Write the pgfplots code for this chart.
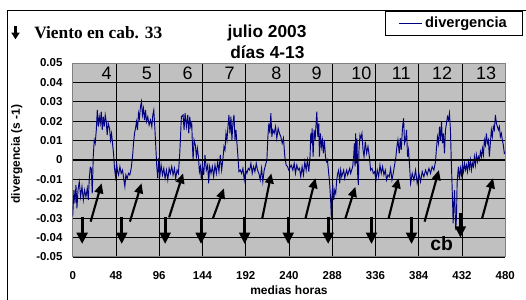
\documentclass[border=0pt]{standalone}
\usepackage{fontspec}
\setmainfont{Liberation Sans}
\newfontfamily\serifbf{Liberation Serif}
\usepackage{pgfplots}
\pgfplotsset{compat=1.18}
\usetikzlibrary{arrows.meta}
\definecolor{plotgray}{HTML}{C0C0C0}
\definecolor{navyline}{HTML}{000080}
\definecolor{framegray}{HTML}{808080}
\begin{document}
\begin{tikzpicture}
\useasboundingbox (0,0) rectangle (394.5pt,225pt);
\begin{axis}[
  at={(54.525pt,32.25pt)}, anchor=south west,
  scale only axis, width=324.4pt, height=145.5pt,
  xmin=0, xmax=480, ymin=-0.05, ymax=0.05,
  scaled y ticks=false, scaled x ticks=false,
  axis background/.style={fill=plotgray},
  axis line style={framegray, line width=0.75pt},
  xtick={0,48,96,144,192,240,288,336,384,432,480},
  xticklabels={0,48,96,144,192,240,288,336,384,432,480},
  ytick={-0.05,-0.04,-0.03,-0.02,-0.01,0,0.01,0.02,0.03,0.04,0.05},
  yticklabels={-0.05,-0.04,-0.03,-0.02,-0.01,0,0.01,0.02,0.03,0.04,0.05},
  major tick length=0pt,
  grid=major, major grid style={black, line width=0.6pt},
  tick label style={font=\bfseries\fontsize{8.6}{10}\selectfont},
  xticklabel style={yshift=-7.4pt},
  yticklabel style={xshift=-4.2pt},
  xlabel={medias horas}, ylabel={divergencia (s -1)},
  label style={font=\bfseries\fontsize{9}{11}\selectfont},
  xlabel style={at={(axis description cs:0.5,-0.173)}, anchor=center},
  ylabel style={at={(axis description cs:-0.129,0.531)}, anchor=center},
  legend style={at={(axis description cs:1.0411,1.268)}, anchor=north east, draw=black, fill=white, inner xsep=10pt, inner ysep=2.2pt, font=\bfseries\fontsize{11}{13}\selectfont, cells={anchor=west}},
]
\addplot[navyline, line width=0.7pt] coordinates {
(0,-0.0290) (1.4,-0.0155) (2.5,-0.0223) (3.6,-0.0129) (4.7,-0.0249) (5.9,-0.0155) (7.3,-0.0112) (8.8,-0.0189) (10.3,-0.0137) (11.8,-0.0206) (13.2,-0.0155) (14.7,-0.0189) (16.2,-0.0146) (17.3,-0.0206) (18.4,-0.0095) (19.5,-0.0038) (20.6,-0.0043) (21.7,-0.0172) (22.8,0.0017) (23.9,0.0103) (25.0,0.0086) (26.2,0.0155) (27.3,0.0258) (28.4,0.0172) (29.5,0.0223) (30.6,0.0189) (31.7,0.0249) (32.8,0.0155) (33.9,0.0223) (35.0,0.0172) (36.1,0.0232) (37.2,0.0198) (38.3,0.0129) (39.4,0.0189) (40.9,0.0163) (42.0,0.0103) (43.1,0.0137) (44.2,0.0086) (45.3,0.0034) (46.4,-0.0043) (47.6,-0.0086) (48.7,-0.0017) (49.8,-0.0060) (50.9,-0.0077) (52.4,-0.0034) (53.8,-0.0069) (55.3,-0.0052) (56.8,-0.0103) (57.9,-0.0137) (59.0,-0.0077) (60.5,-0.0095) (61.9,-0.0069) (63.4,-0.0077) (64.9,-0.0043) (66.4,0.0017) (67.5,0.0086) (68.6,0.0137) (69.7,0.0163) (70.8,0.0198) (71.9,0.0155) (73.0,0.0241) (74.1,0.0215) (75.2,0.0275) (76.3,0.0301) (77.4,0.0232) (78.5,0.0266) (79.7,0.0206) (80.8,0.0258) (81.9,0.0198) (83.3,0.0223) (84.8,0.0180) (86.3,0.0206) (87.8,0.0172) (88.9,0.0232) (90.0,0.0258) (91.1,0.0172) (92.2,0.0069) (93.3,-0.0034) (94.4,-0.0095) (95.5,0.0009) (96.6,-0.0089) (98.1,-0.0026) (99.6,-0.0077) (101.1,-0.0043) (102.5,-0.0095) (104.0,-0.0052) (105.5,-0.0103) (107.0,-0.0043) (108.4,-0.0069) (109.9,-0.0034) (111.4,-0.0077) (112.9,-0.0043) (114.3,-0.0095) (115.8,-0.0052) (117.3,-0.0069) (118.8,0.0034) (119.5,0.0103)
(120.6,0.0223) (122.5,0.0232) (123.6,0.0155) (124.7,0.0241) (126.2,0.0172) (127.7,0.0232) (128.8,0.0137) (129.9,0.0223) (131.0,0.0172) (132.1,0.0189) (132.8,0.0086) (133.6,0) (134.7,0.0103) (136.1,0.0077) (137.3,0.0017) (138.4,0.0060) (139.5,0.0017) (140.6,-0.0060) (141.7,-0.0034) (142.8,-0.0103) (143.9,-0.0026) (145.4,-0.0077) (146.8,0.0026) (148.3,-0.0052) (149.8,-0.0026) (150.9,-0.0120) (152.0,-0.0034) (153.5,-0.0069) (155.0,-0.0034) (156.4,-0.0086) (157.9,-0.0026) (159.4,-0.0069) (160.9,-0.0009) (162.3,-0.0060) (163.8,0.0026) (165.3,-0.0052) (166.8,0.0009) (167.9,0.0069) (169.0,0.0052) (170.1,0.0137) (171.2,0.0103) (172.3,0.0172) (173.4,0.0232) (174.5,0.0137) (175.6,0.0223) (176.7,0.0103) (177.8,0.0189) (179.0,0.0232) (180.1,0.0103) (181.2,0.0155) (182.3,0.0086) (183.4,0.0017) (184.5,-0.0060) (186.0,-0.0052) (187.4,-0.0069) (188.9,-0.0043) (190.4,-0.0103) (191.9,-0.0052) (193.3,-0.0069) (194.8,-0.0043) (196.3,-0.0052) (197.8,-0.0017) (199.2,-0.0069) (200.7,-0.0034) (202.2,-0.0060) (203.7,-0.0017) (205.1,-0.0052) (206.6,-0.0069) (208.1,-0.0103) (209.6,-0.0043) (211.0,-0.0112) (212.5,-0.0052) (214.0,-0.0026) (215.5,0) (216.6,0.0120) (217.7,0.0189) (218.8,0.0137) (219.9,0.0241) (221.0,0.0120) (222.1,0.0155) (223.6,0.0137) (225.1,0.0172) (226.5,0.0112) (228.0,0.0163) (229.5,0.0137) (231.0,0.0120) (232.5,0.0086) (233.9,0.0112) (235.4,0.0017) (236.9,-0.0026) (238.4,-0.0034) (239.8,-0.0052)
(242.4,-0.0026) (244.3,-0.0052) (245.8,-0.0017) (247.2,-0.0069) (248.7,-0.0026) (250.2,-0.0052) (251.7,-0.0043) (253.1,-0.0086) (254.6,-0.0034) (256.1,-0.0077) (257.6,-0.0009) (259.1,-0.0052) (260.5,0) (262.0,-0.0060) (263.5,0.0026) (264.2,0.0137) (265.0,0.0086) (265.7,0.0163) (266.8,0.0017) (267.9,0.0155) (269.0,0.0103) (270.1,0.0189) (270.9,0.0249) (272.0,0.0120) (273.1,0.0189) (273.8,0.0017) (274.9,0.0137) (276.0,0.0069) (277.1,0.0103) (278.2,0.0034) (279.3,0.0103) (280.5,0.0017) (281.6,-0.0009) (282.7,0) (283.4,-0.0034) (284.1,-0.0069) (284.9,-0.0103) (285.6,-0.0155) (286.4,-0.0223) (287.1,-0.0309) (287.8,-0.0172) (288.6,-0.0129) (289.7,-0.0206) (290.8,-0.0155) (291.9,-0.0172) (293.0,-0.0103) (294.1,-0.0069) (295.2,-0.0052) (296.3,-0.0120) (297.4,-0.0052) (298.5,-0.0086) (299.6,-0.0069) (300.7,-0.0052) (301.9,-0.0095) (303.0,-0.0069) (304.1,-0.0052) (305.2,-0.0077) (306.3,-0.0060) (307.4,-0.0043) (308.5,-0.0069) (309.6,-0.0052) (310.7,-0.0034) (311.8,0.0017) (312.6,0.0086) (313.3,-0.0034) (314.0,0.0137) (314.8,-0.0017) (315.5,0.0112) (316.2,-0.0069) (317.0,-0.0129) (317.7,0.0052) (318.8,0.0129) (319.9,0.0112) (321.0,0.0137) (322.2,0.0052) (323.3,0.0017) (324.7,0.0095) (326.2,0.0034) (327.7,0.0069) (329.2,0.0017) (330.6,-0.0052) (332.1,-0.0043) (333.6,-0.0069) (335.1,-0.0060) (336.5,-0.0103) (338.0,-0.0052) (339.5,-0.0086) (341.0,-0.0026) (342.4,-0.0069) (343.9,-0.0034) (345.4,-0.0077) (346.9,-0.0052) (348.3,-0.0103) (349.8,-0.0077) (351.3,-0.0086) (352.8,-0.0043) (354.3,-0.0103) (355.7,-0.0069) (357.2,-0.0026) (358.7,0.0017) (359.8,0.0069) (360.9,0.0103) (362.4,0.0034) (363.5,0.0112)
(364.6,0.0052) (366.1,0.0172) (367.2,0.0215) (368.3,0.0086) (369.4,0.0103) (370.5,0.0155) (371.6,0.0017) (372.7,0.0052) (373.9,-0.0034) (375.0,-0.0120) (376.8,-0.0069) (378.7,-0.0103) (380.5,-0.0052) (382.3,-0.0120) (384.2,-0.0069) (386.0,-0.0112) (387.9,-0.0060) (389.7,-0.0086) (391.6,-0.0052) (393.4,-0.0077) (395.3,-0.0043) (397.1,-0.0069) (398.9,-0.0034) (400.8,-0.0052) (402.6,-0.0009) (403.7,0.0060) (404.8,0.0120) (406.0,0.0086) (407.1,0.0172) (408.2,0.0103) (409.3,0.0198) (410.4,0.0086) (411.5,0.0137) (412.6,0.0034) (413.7,0.0155) (414.8,0.0189) (415.9,0.0223) (417.0,0.0206) (418.1,0.0241) (419.2,0.0155) (420.0,0.0017) (420.7,-0.0086) (421.5,-0.0206) (422.2,-0.0326) (422.9,-0.0241) (423.7,-0.0155) (424.4,-0.0258) (425.1,-0.0361) (425.9,-0.0292) (426.6,-0.0120) (427.4,-0.0069) (428.1,-0.0034) (429.2,-0.0103) (430.3,-0.0043) (431.4,-0.0077) (432.5,-0.0026) (433.6,-0.0060) (434.7,-0.0017) (435.8,-0.0052) (437.0,-0.0026) (438.1,-0.0060) (439.2,-0.0009) (440.3,-0.0043) (441.4,0) (442.5,-0.0052) (443.6,-0.0017) (444.7,-0.0034) (445.8,0.0017) (446.9,-0.0026) (448.0,0.0026) (449.1,-0.0009) (450.2,0.0017) (451.3,0) (452.5,0.0043) (453.6,0.0017) (454.7,0.0060) (455.8,0.0026) (456.9,0.0103) (458.0,0.0077) (459.1,0.0137) (460.2,0.0086) (461.3,0.0103) (462.4,0.0017) (463.5,0.0086) (464.6,0.0155) (465.7,0.0120) (466.8,0.0172) (467.9,0.0155) (469.1,0.0232) (470.2,0.0189) (471.3,0.0172) (472.4,0.0155) (473.5,0.0172) (474.6,0.0120) (475.7,0.0137) (476.8,0.0103) (477.9,0.0077) (479.0,0.0034) (480,0.0040)
};
\addlegendentry{divergencia}
\addplot[black, line width=2.2pt, forget plot] coordinates {(0,0) (480,0)};
% wind arrows
\pgfplotsset{downarr/.style={black, line width=2.4pt, -{Triangle[length=8.5pt,width=8pt]}, forget plot},
             slantarr/.style={black, line width=1.6pt, -{Triangle[length=7.5pt,width=6.5pt]}, forget plot}}
\addplot[downarr] coordinates {(10.5,-0.0292) (10.5,-0.0433)};
\addplot[downarr] coordinates {(54.4,-0.0292) (54.4,-0.0433)};
\addplot[downarr] coordinates {(102.6,-0.0292) (102.6,-0.0433)};
\addplot[downarr] coordinates {(142.5,-0.0292) (142.5,-0.0433)};
\addplot[downarr] coordinates {(190.8,-0.0292) (190.8,-0.0433)};
\addplot[downarr] coordinates {(239.2,-0.0292) (239.2,-0.0433)};
\addplot[downarr] coordinates {(283.5,-0.0292) (283.5,-0.0433)};
\addplot[downarr] coordinates {(331.6,-0.0292) (331.6,-0.0433)};
\addplot[downarr] coordinates {(376.0,-0.0292) (376.0,-0.0433)};
\addplot[downarr] coordinates {(430.3,-0.0275) (430.3,-0.0400)};
\addplot[slantarr] coordinates {(19.9,-0.0318) (32.1,-0.0120)};
\addplot[slantarr] coordinates {(63.5,-0.0318) (76.4,-0.0120)};
\addplot[slantarr] coordinates {(107.0,-0.0296) (122.5,-0.0069)};
\addplot[slantarr] coordinates {(155.7,-0.0300) (167.9,-0.0146)};
\addplot[slantarr] coordinates {(210.4,-0.0300) (220.4,-0.0069)};
\addplot[slantarr] coordinates {(258.4,-0.0300) (269.4,-0.0094)};
\addplot[slantarr] coordinates {(302.7,-0.0300) (313.7,-0.0138)};
\addplot[slantarr] coordinates {(350.6,-0.0300) (361.7,-0.0094)};
\addplot[slantarr] coordinates {(390.5,-0.0318) (406.4,-0.0052)};
\addplot[slantarr] coordinates {(454.4,-0.0300) (466.5,-0.0094)};
\begin{scope}[every node/.style={font=\fontsize{13.5}{15}\selectfont, inner sep=0pt}]
\node at (axis cs:37.7,0.0446) {4};
\node at (axis cs:82.3,0.0446) {5};
\node at (axis cs:127.6,0.0446) {6};
\node at (axis cs:174.1,0.0446) {7};
\node at (axis cs:226,0.0446) {8};
\node at (axis cs:270.6,0.0446) {9};
\node at (axis cs:320.4,0.0446) {10};
\node at (axis cs:364.7,0.0446) {11};
\node at (axis cs:410,0.0446) {12};
\node at (axis cs:458.8,0.0446) {13};
\end{scope}
\node[font=\bfseries\fontsize{14.5}{16}\selectfont, inner sep=0pt] at (axis cs:409.5,-0.0433) {cb};
\end{axis}
\begin{scope}[x=0.75pt,y=0.75pt]
\draw[black, line width=0.75pt] (7.3,0) -- (7.3,289.3) -- (526,289.3);
\draw[black, line width=1.8pt, -{Triangle[length=5pt,width=6pt]}] (15.5,274) -- (15.5,260.7);
\node[anchor=base west, font=\serifbf\bfseries\fontsize{13}{15}\selectfont, inner sep=0pt] at (34,261) {Viento en cab. 33};
\node[anchor=base, font=\bfseries\fontsize{13}{15}\selectfont, inner sep=0pt] at (267,262.3) {julio 2003};
\node[anchor=base, font=\bfseries\fontsize{13}{15}\selectfont, inner sep=0pt] at (267.4,241.7) {días 4-13};
\end{scope}
\end{tikzpicture}
\end{document}
